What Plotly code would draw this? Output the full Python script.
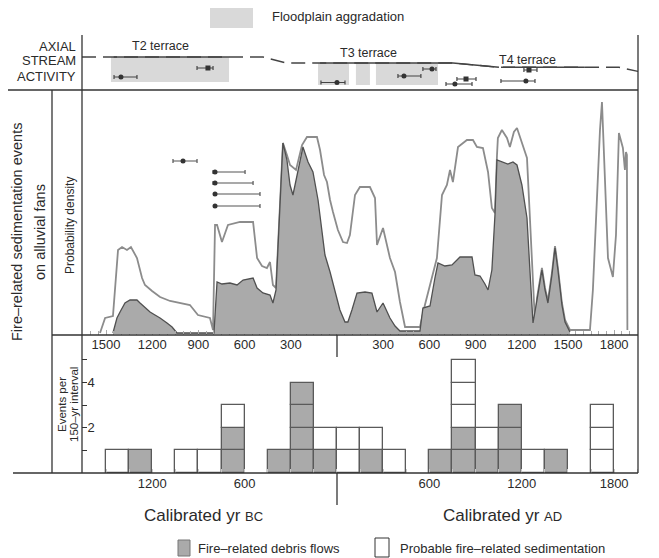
import plotly.graph_objects as go
import numpy as np

# ---------------- DATA ----------------
# Probability density (relative units) of all fire-related events (outer curve)
years_all = [-1539, -1506, -1455, -1422, -1396, -1364, -1338, -1299, -1266, -1247, -1201, -1149,
             -1084, -1019, -955, -903, -825, -805, -792, -779, -747, -708, -630, -545, -519,
             -487, -455, -435, -416, -396, -370, -351, -325, -305, -266, -227, -195, -130,
             -110, -84, -65, -45, -26, 6, 39, 65, 84, 117, 149, 214, 247, 260, 299, 344,
             377, 409, 442, 539, 571, 604, 649, 682, 714, 734, 753, 786, 844, 883, 909, 948,
             981, 1006, 1026, 1039, 1045, 1071, 1104, 1123, 1149, 1169, 1201, 1234, 1253,
             1273, 1286, 1299, 1331, 1351, 1370, 1396, 1416, 1435, 1461, 1481, 1513, 1643,
             1662, 1688, 1708, 1721, 1740, 1760, 1792, 1812, 1831, 1857, 1870, 1877, 1883, 1886]
dens_all = [1, 16, 18, 84, 87, 84, 87, 76, 56, 49, 43, 37,
            33, 31, 29, 19, 16, 4, 109, 109, 92, 109, 112, 112, 76,
            68, 66, 72, 49, 46, 134, 191, 179, 169, 164, 189, 197, 197,
            184, 159, 152, 134, 122, 104, 92, 91, 99, 139, 147, 147, 136, 89, 106, 76,
            62, 32, 7, 7, 29, 49, 76, 139, 149, 164, 152, 187, 194, 194, 187, 186,
            162, 126, 121, 178, 196, 204, 196, 187, 202, 206, 192, 176, 116,
            44, 11, 36, 66, 46, 33, 61, 88, 66, 31, 14, 4, 4,
            44, 134, 204, 232, 164, 76, 57, 99, 201, 186, 164, 182, 179, 4]

# Probability density of fire-related debris flows (shaded curve)
years_debris = [-1455, -1429, -1409, -1377, -1344, -1299, -1279, -1247, -1214, -1182, -1149, -1104,
                -1071, -1039, -799, -779, -747, -695, -649, -610, -565, -545, -519, -481, -435,
                -416, -396, -370, -351, -325, -305, -286, -260, -221, -188, -156, -123, -97,
                -78, -45, -13, 19, 52, 71, 97, 130, 182, 227, 260, 299, 344, 377, 409, 539,
                558, 604, 636, 656, 701, 747, 799, 877, 896, 929, 961, 981, 1006, 1026, 1039,
                1078, 1110, 1143, 1169, 1201, 1234, 1253, 1273, 1299, 1331, 1351, 1370, 1396,
                1416, 1435, 1461, 1481, 1513]
dens_debris = [1, 16, 22, 31, 34, 34, 31, 27, 22, 19, 16, 11,
               7, 1, 1, 52, 50, 51, 49, 54, 55, 56, 46, 41, 39,
               31, 44, 134, 191, 174, 149, 139, 159, 187, 172, 162, 134, 104,
               79, 62, 44, 24, 12, 12, 24, 41, 42, 41, 22, 31, 16, 8, 3, 3,
               26, 28, 56, 71, 68, 69, 77, 77, 59, 58, 50, 44, 64, 119, 174,
               172, 170, 172, 169, 149, 116, 64, 11, 34, 64, 44, 31, 59,
               86, 64, 29, 12, 2]

# Dated samples shown in the probability panel (age, lower, upper, plot level)
mid_age = [-1000, -792, -792, -792, -792]
mid_lo = [-1065, -805, -805, -792, -792]
mid_hi = [-909, -597, -545, -500, -500]
mid_level = [173, 162, 151, 140, 128]

# Histogram: 150-yr bins (start year), counts of debris flows and probable events
bin_start = [-1500, -1350, -1050, -900, -750, -450, -300, -150, 0, 150, 300,
             600, 750, 900, 1050, 1200, 1350, 1650]
debris_counts = [0, 1, 0, 0, 2, 1, 4, 1, 0, 1, 0, 1, 2, 1, 3, 0, 1, 0]
probable_counts = [1, 0, 1, 1, 1, 0, 0, 1, 2, 1, 1, 0, 3, 1, 0, 1, 0, 3]

# Axial stream activity: relative stream level through time
stream_years = [-1656, -1450, -701, -481, -331, -110, 753, 1052, 1078, 1610, 1831, 1955]
stream_level = [33, 33, 33, 33, 27, 27, 27, 22.7, 22.7, 22.7, 22.7, 18.6]
terrace_names = ["T2 terrace", "T3 terrace", "T4 terrace"]
terrace_start = [-1450, -110, 1078]
terrace_end = [-701, 1052, 1610]

# Floodplain aggradation periods (start, end, lower level, upper level)
flood_start = [-1468, -123, 123, 253]
flood_end = [-701, 78, 214, 656]
flood_lo = [8, 5, 5, 5]
flood_hi = [33, 27, 27, 27]

# Dated samples in axial stream deposits
top_age = [-1403, -838, 0, 435, 617, 838, 766, 1227, 1247]
top_lo = [-1448, -909, -104, 396, 558, 779, 708, 1065, 1214]
top_hi = [-1299, -805, 52, 545, 643, 903, 877, 1286, 1299]
top_level = [13, 22, 7.5, 14, 21, 11, 6, 9, 20]
top_symbol = ["circle", "square", "circle", "circle", "circle", "square", "circle", "circle", "square"]

mid_ticks = [-1500, -1200, -900, -600, -300, 300, 600, 900, 1200, 1500, 1800]
bot_ticks = [-1200, -600, 600, 1200, 1800]

# ---------------- FIGURE ----------------
# the page body has an 8px margin: the figure starts at page pixel (8, 8)
OFF = 8
W, H = 659 - OFF, 558 - OFF
def px(x):
    return (x - OFF) / W
def py(y):
    return 1 - (y - OFF) / H

FONT = "Liberation Sans, Arial, Helvetica, sans-serif"
INK = "#2a2a2a"
GREY = "#aaaaaa"
LIGHT = "#d9d9d9"
XR = [-1656, 1955]

fig = go.Figure()

# --- middle panel: probability density
fig.add_trace(go.Scatter(x=years_all, y=dens_all, mode="lines", xaxis="x2", yaxis="y2",
                         line=dict(color="#8c8c8c", width=1.8), fill="tozeroy",
                         fillcolor="white", hoverinfo="skip"))
fig.add_trace(go.Scatter(x=years_debris, y=dens_debris, mode="lines", xaxis="x2", yaxis="y2",
                         line=dict(color="#505050", width=1.3), fill="tozeroy",
                         fillcolor=GREY, hoverinfo="skip"))
fig.add_trace(go.Scatter(
    x=mid_age, y=mid_level, mode="markers", xaxis="x2", yaxis="y2",
    marker=dict(symbol="circle", size=5, color="#333"),
    error_x=dict(type="data", symmetric=False,
                 array=[h - a for h, a in zip(mid_hi, mid_age)],
                 arrayminus=[a - l for a, l in zip(mid_age, mid_lo)],
                 color="#555", thickness=1.2, width=2),
    hoverinfo="skip"))

# --- bottom panel: histogram of events
bx, bb, bc = [], [], []
for s, d, p in zip(bin_start, debris_counts, probable_counts):
    for k in range(d + p):
        bx.append(s + 75)
        bb.append(k)
        bc.append(GREY if k < d else "white")
fig.add_trace(go.Bar(x=bx, y=[1] * len(bx), base=bb, width=150, xaxis="x", yaxis="y",
                     marker=dict(color=bc, line=dict(color="#5a5a5a", width=1.3)),
                     hoverinfo="skip"))

# --- top panel: stream activity
fig.add_trace(go.Scatter(x=stream_years, y=stream_level, mode="lines", xaxis="x3", yaxis="y3",
                         line=dict(color="#444", width=1.4, dash="14px,7px"), hoverinfo="skip"))
for s, e in zip(terrace_start, terrace_end):
    xs = [s] + [v for v in stream_years if s < v < e] + [e]
    ys = list(np.interp(xs, stream_years, stream_level))
    fig.add_trace(go.Scatter(x=xs, y=ys, mode="lines", xaxis="x3", yaxis="y3",
                             line=dict(color="#444", width=1.4), hoverinfo="skip"))
fig.add_trace(go.Scatter(
    x=top_age, y=top_level, mode="markers", xaxis="x3", yaxis="y3",
    marker=dict(symbol=top_symbol, size=5, color="#333"),
    error_x=dict(type="data", symmetric=False,
                 array=[h - a for h, a in zip(top_hi, top_age)],
                 arrayminus=[a - l for a, l in zip(top_age, top_lo)],
                 color="#444", thickness=1.2, width=2),
    hoverinfo="skip"))

shapes = []
for s, e, lo, hi in zip(flood_start, flood_end, flood_lo, flood_hi):
    shapes.append(dict(type="rect", xref="x3", yref="y3", x0=s, x1=e, y0=lo, y1=hi,
                       fillcolor=LIGHT, line=dict(width=0), layer="below"))

def pline(x0, y0, x1, y1, w=1.3, c="#333"):
    shapes.append(dict(type="line", xref="paper", yref="paper", x0=px(x0), y0=py(y0),
                       x1=px(x1), y1=py(y1), line=dict(color=c, width=w)))

pline(82, 35, 82, 473)
pline(638, 35, 638, 473)
pline(OFF, 90, 638, 90)
pline(52, 335, 638, 335)
pline(13, 473, 638, 473)
pline(52, 90, 52, 473)
pline(337, 335, 337, 357)
pline(337, 473, 337, 505)

# legend swatches
shapes.append(dict(type="rect", xref="paper", yref="paper", x0=px(210), x1=px(253),
                   y0=py(28), y1=py(7), fillcolor=LIGHT, line=dict(width=0)))
shapes.append(dict(type="rect", xref="paper", yref="paper", x0=px(178), x1=px(190),
                   y0=py(556), y1=py(540), fillcolor=GREY, line=dict(color="#777", width=1)))
shapes.append(dict(type="rect", xref="paper", yref="paper", x0=px(375), x1=px(389),
                   y0=py(557), y1=py(538), fillcolor="white", line=dict(color="#333", width=1)))

ann = []
def text(x, y, s, size=12, xa="center", ya="middle", angle=0):
    ann.append(dict(x=px(x), y=py(y), xref="paper", yref="paper", text=s, showarrow=False,
                    xanchor=xa, yanchor=ya, textangle=angle,
                    font=dict(family=FONT, size=size, color=INK)))

text(270, 17, "Floodplain aggradation", 13, xa="left")
text(78, 46, "AXIAL", 13, xa="right")
text(78, 61, "STREAM", 13, xa="right")
text(78, 76, "ACTIVITY", 13, xa="right")
text(160, 46, terrace_names[0], 12.5)
text(368, 53, terrace_names[1], 12.5)
text(527, 60, terrace_names[2], 12.5)
text(17, 232, "Fire–related sedimentation events", 14.5, angle=-90)
text(40, 232, "on alluvial fans", 14.5, angle=-90)
text(70, 226, "Probability density", 12, angle=-90)
text(62, 405, "Events per", 11.5, angle=-90)
text(74, 405, "150–yr interval", 11.5, angle=-90)
text(203, 515, "Calibrated yr <span style='font-size:13px'>BC</span>", 17)
text(502, 515, "Calibrated yr <span style='font-size:13px'>AD</span>", 17)
text(196, 548, "Fire–related debris flows", 13, xa="left")
text(398, 548, "Probable fire–related sedimentation", 13, xa="left")

xdom = [px(82), px(638)]
tickfont = dict(family=FONT, size=13, color=INK)

fig.update_layout(
    width=W, height=H, margin=dict(l=0, r=0, t=0, b=0),
    paper_bgcolor="white", plot_bgcolor="rgba(0,0,0,0)",
    showlegend=False, barmode="overlay", bargap=0,
    shapes=shapes, annotations=ann,
    xaxis=dict(domain=xdom, anchor="y", range=XR, tickvals=bot_ticks,
               ticktext=[str(abs(v)) for v in bot_ticks], showgrid=False, zeroline=False,
               showline=False, ticks="", tickfont=tickfont, ticklabelstandoff=1,
               minor=dict(dtick=150, tick0=0, ticks="inside", ticklen=4, tickcolor="#c8c8c8")),
    yaxis=dict(domain=[py(473), py(335)], anchor="x", range=[0, 6.1],
               tickvals=[1, 2, 3, 4, 5], ticktext=["", "2", "", "4", ""],
               ticks="inside", ticklen=5, tickcolor="#333", ticklabelposition="inside",
               showgrid=False, zeroline=False, showline=False, tickfont=tickfont),
    xaxis2=dict(domain=xdom, anchor="y2", range=XR, tickvals=mid_ticks,
                ticktext=[str(abs(v)) for v in mid_ticks], showgrid=False, zeroline=False,
                showline=False, ticks="inside", ticklen=5, tickcolor="#aaa", tickfont=tickfont,
                minor=dict(dtick=50, tick0=0, ticks="inside", ticklen=4, tickcolor="#aaa")),
    yaxis2=dict(domain=[py(335), py(90)], anchor="x2", range=[-1, 244], visible=False),
    xaxis3=dict(domain=xdom, anchor="y3", range=XR, visible=False),
    yaxis3=dict(domain=[py(90), py(35)], anchor="x3", range=[0, 55], visible=False),
)

fig.write_html("out.html")
